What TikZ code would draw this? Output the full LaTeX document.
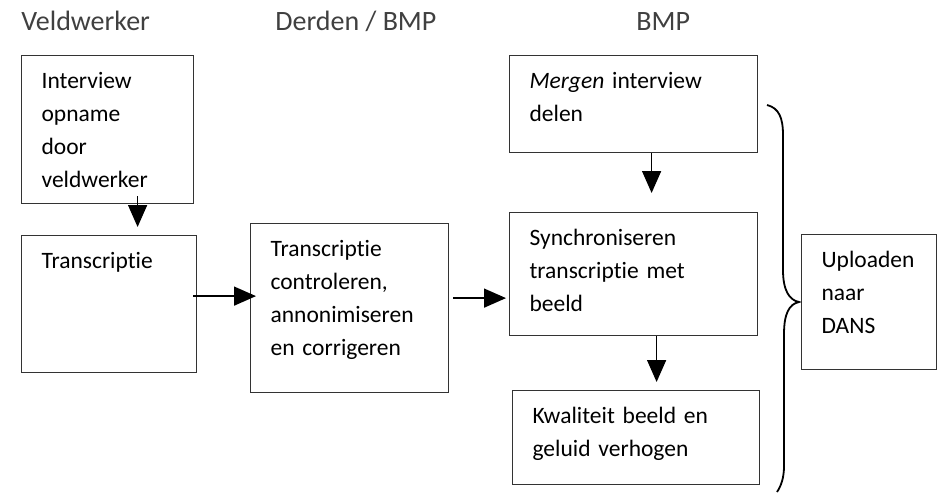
\documentclass[tikz,border=0pt]{standalone}
\usepackage{fontspec}
\setmainfont{Carlito}[Ligatures=NoCommon]
\usepackage{tikz}
\usetikzlibrary{arrows.meta}
\usetikzlibrary{calc}

\begin{document}
\begin{tikzpicture}[x=0.5pt,y=-0.5pt,
      kop/.style={anchor=base west,inner sep=0pt,text=black!75,
        font=\fontsize{14}{16}\selectfont},
      stap/.style={draw=black!80,line width=0.6pt,anchor=north west,align=left,
        inner xsep=10pt,inner ysep=8pt,text height=8.5pt,
        font=\fontsize{11.75}{16.5}\selectfont},
      pijl/.style={line width=0.75pt,-{Triangle[length=11pt,width=9.5pt]}},
      accolade/.style={line width=0.9pt}]

      \useasboundingbox (0,0) rectangle (941,493);

      \node[kop] (veld) at (21,30) {Veldwerker};
      \node[kop] (derden) at (275,30) {Derden / BMP};
      \node[kop] (bmp) at (636,30) {BMP};

      \node[stap,text width=66pt,text depth=49.5pt] (interview) at (21,55)
        {Interview\\opname\\door\\veldwerker};
      \node[stap,text width=67.5pt,text depth=44pt] (transcriptie) at (21,235)
        {Transcriptie};
      \node[stap,text width=79pt,text depth=60pt] (controle) at (250,223)
        {Transcriptie\\controleren,\\annonimiseren\\en corrigeren};
      \node[stap,text width=104pt,text depth=24pt] (mergen) at (509,55)
        {\textit{Mergen} interview\\delen};
      \node[stap,text width=104pt,text depth=37pt] (sync) at (509,212)
        {Synchroniseren\\transcriptie met\\beeld};
      \node[stap,text width=103.5pt,text depth=22.5pt] (kwaliteit) at (512,390)
        {Kwaliteit beeld en\\geluid verhogen};
      \node[stap,text width=47.5pt,text depth=43pt] (upload) at (801,234)
        {Uploaden\\naar\\DANS};

      \draw[pijl,shorten <=-4pt,shorten >=4pt] ([xshift=15pt]interview.south)
        -- ([xshift=15pt]interview.south |- transcriptie.north);
      \draw[pijl,shorten <=-2pt,shorten >=-3pt] ([yshift=4pt]transcriptie.east)
        -- ([yshift=4pt]transcriptie.east -| controle.west);
      \draw[pijl,shorten <=2pt,shorten >=1.5pt] ([yshift=5pt]controle.east)
        -- ([yshift=5pt]controle.east -| sync.west);
      \draw[pijl,shorten >=9.5pt] ([xshift=9pt]mergen.south)
        -- ([xshift=9pt]mergen.south |- sync.north);
      \draw[pijl,shorten >=4pt] ([xshift=11.5pt]sync.south)
        -- ([xshift=11.5pt]sync.south |- kwaliteit.north);

      \draw[accolade] (767,105) .. controls (779,108) and (783,118) .. (783,135)
        -- (783,270) .. controls (783,290) and (789,300) .. (799,302)
        .. controls (789,304) and (784,314) .. (784,334)
        -- (784,466) .. controls (784,478) and (781,486) .. (777,492);
    \end{tikzpicture}
\end{document}
